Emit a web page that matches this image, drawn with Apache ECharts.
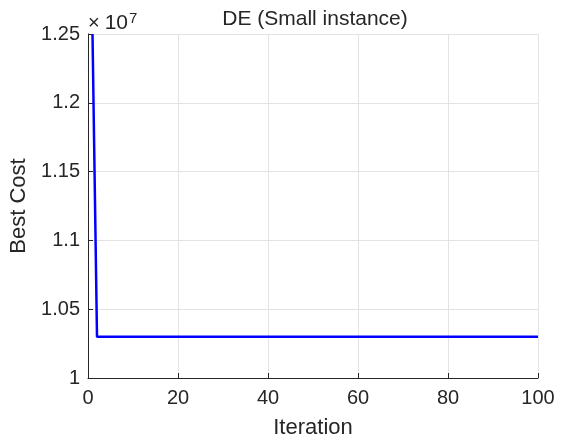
<!DOCTYPE html>
<html>
<head>
<meta charset="utf-8">
<script src="https://cdn.jsdelivr.net/npm/echarts@6/dist/echarts.min.js"></script>
<style>
  html, body { margin: 0; padding: 0; background: #fff; }
  #chart { width: 563px; height: 445px; }
</style>
</head>
<body>
<div id="chart"></div>
<script>
  // data
  var iterations = [1, 2, 100];
  var bestCost = [12500000, 10300000, 10300000];
  var xTicks = [0, 20, 40, 60, 80, 100];
  var yTicks = [10000000, 10500000, 11000000, 11500000, 12000000, 12500000];

  var textColor = '#262626';
  var font = 'Liberation Sans, Arial, sans-serif';

  var chart = echarts.init(document.getElementById('chart'));

  var option = {
    backgroundColor: '#fff',
    animation: false,
    graphic: [{
      // title, centred over the plot area
      type: 'text',
      x: 315,
      y: 9,
      style: {
        text: 'DE (Small instance)',
        fontFamily: font,
        fontSize: 21,
        fill: textColor,
        align: 'center',
        verticalAlign: 'top'
      }
    }, {
      // exponent label of the y axis
      type: 'text',
      x: 88,
      y: 11,
      style: {
        text: '{x|×}{n|10}{sup|7}',
        fontFamily: font,
        fontSize: 21,
        fill: textColor,
        rich: {
          x: { fontFamily: font, fontSize: 20, fill: textColor, padding: [0, 5, 0, 0] },
          n: { fontFamily: font, fontSize: 21, fill: textColor },
          sup: { fontFamily: font, fontSize: 15, fill: textColor, verticalAlign: 'top', padding: [0, 0, 10, 1] }
        }
      }
    }],
    grid: { left: 88, right: 25, top: 34, bottom: 67, containLabel: false },
    xAxis: {
      type: 'value',
      min: xTicks[0],
      max: xTicks[xTicks.length - 1],
      interval: 20,
      name: 'Iteration',
      nameLocation: 'middle',
      nameGap: 39,
      nameTextStyle: { fontFamily: font, fontSize: 22, color: textColor },
      axisLine: { lineStyle: { color: textColor, width: 1 } },
      axisTick: { inside: true, length: 5, lineStyle: { color: textColor } },
      axisLabel: { fontFamily: font, fontSize: 20, color: textColor, margin: 10 },
      splitLine: { show: true, lineStyle: { color: '#e3e3e3', width: 1 } }
    },
    yAxis: {
      type: 'value',
      min: yTicks[0],
      max: yTicks[yTicks.length - 1],
      interval: 500000,
      name: 'Best Cost',
      nameLocation: 'middle',
      nameGap: 56,
      nameTextStyle: { fontFamily: font, fontSize: 22, color: textColor },
      axisLine: { show: true, lineStyle: { color: textColor, width: 1 } },
      axisTick: { show: true, inside: true, length: 5, lineStyle: { color: textColor } },
      axisLabel: {
        fontFamily: font, fontSize: 20, color: textColor, margin: 8,
        formatter: function (v) { return String(+(v / 1e7).toFixed(2)); }
      },
      splitLine: { show: true, lineStyle: { color: '#e3e3e3', width: 1 } }
    },
    series: [{
      type: 'line',
      data: iterations.map(function (it, i) { return [it, bestCost[i]]; }),
      showSymbol: false,
      clip: true,
      lineStyle: { color: '#0000ff', width: 2.5 },
      itemStyle: { color: '#0000ff' }
    }]
  };

  chart.setOption(option);
</script>
</body>
</html>
